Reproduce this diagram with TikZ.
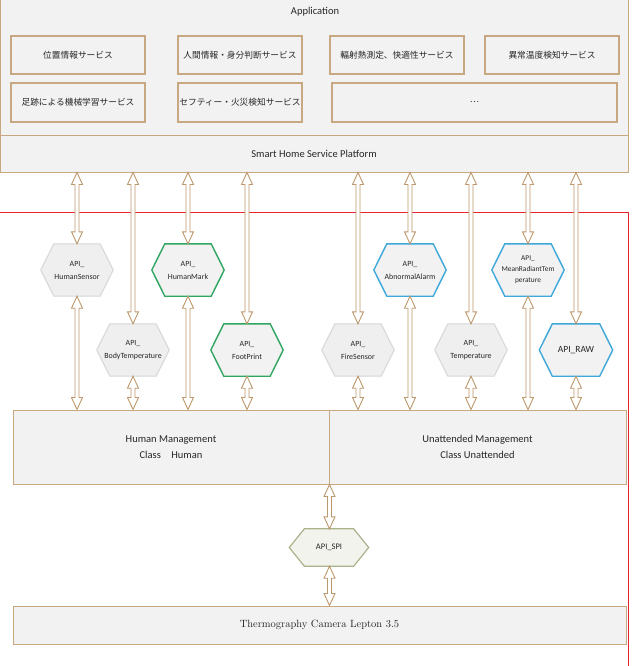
\documentclass[tikz,border=0pt]{standalone}
\usepackage{fontspec}
\newfontfamily\calfont{Carlito}
\newfontfamily\jpfont{Noto Sans CJK JP}
\usetikzlibrary{calc,backgrounds}
\definecolor{tanc}{RGB}{200,168,128}
\definecolor{arrc}{RGB}{188,152,108}
\definecolor{boxfill}{RGB}{242,242,242}
\definecolor{hexfill}{RGB}{239,239,239}
\definecolor{hexgray}{RGB}{214,214,214}
\definecolor{hexgreen}{RGB}{48,166,98}
\definecolor{hexblue}{RGB}{62,168,218}
\definecolor{spiborder}{RGB}{170,178,138}
\definecolor{spifill}{RGB}{243,243,238}
\definecolor{redc}{RGB}{230,36,42}
\definecolor{txt}{RGB}{38,38,38}
\tikzset{
  panel/.style={draw=tanc, fill=boxfill, line width=1pt, inner sep=0pt, text=txt},
  svc/.style={draw=tanc, fill=boxfill, line width=1.4pt, inner sep=0pt, text=txt,
    font=\jpfont\fontsize{8.7}{10}\selectfont},
  hexbox/.style={inner sep=0pt, align=center, text=txt,
    minimum width=72pt, minimum height=52pt, font=\calfont\fontsize{7.9}{13}\selectfont},
  hexg/.style={draw=hexgray, fill=hexfill, line width=1pt},
  hexgr/.style={draw=hexgreen, fill=boxfill, line width=1.4pt},
  hexbl/.style={draw=hexblue, fill=boxfill, line width=1.4pt},
  hexspi/.style={draw=spiborder, fill=spifill, line width=1.2pt},
  arrowsty/.style={draw=arrc, fill=white, line width=0.9pt, line join=miter},
  redline/.style={draw=redc, line width=1pt},
  mgmt/.style={panel, align=center, font=\calfont\fontsize{10.5}{16.5}\selectfont},
}
\newcommand\biarrow[2]{\draw[arrowsty] let \p1=(#1), \p2=(#2) in
 (\x1,\y1) -- ({\x1+5.5pt},{\y1-12pt}) -- ({\x1+2pt},{\y1-12pt}) -- ({\x1+2pt},{\y2+12pt})
 -- ({\x1+5.5pt},{\y2+12pt}) -- (\x1,\y2) -- ({\x1-5.5pt},{\y2+12pt}) -- ({\x1-2pt},{\y2+12pt})
 -- ({\x1-2pt},{\y1-12pt}) -- ({\x1-5.5pt},{\y1-12pt}) -- cycle;}
\newcommand\hexshape[3]{\draw[#1] (#2.west) -- ([xshift=#3]#2.north west) -- ([xshift=-#3]#2.north east)
 -- (#2.east) -- ([xshift=-#3]#2.south east) -- ([xshift=#3]#2.south west) -- cycle;}
\begin{document}
\begin{tikzpicture}[x=1pt,y=-1pt]
\path[use as bounding box] (0,0) rectangle (633,666);
% red frame
\draw[redline] (0,212) -- (628,212) -- (628,667);
% application panel
\node[panel, minimum width=628pt, minimum height=136pt] (app) at (314,67.5) {};
\node[text=txt, font=\calfont\fontsize{10.5}{12}\selectfont] (apptitle) at (315,12) {Application};
\node[svc, minimum width=134pt, minimum height=38pt] (s1) at (78,55) {位置情報サービス};
\node[svc, minimum width=124pt, minimum height=38pt] (s2) at (240,55) {人間情報・身分判断サービス};
\node[svc, minimum width=134pt, minimum height=38pt] (s3) at (397,55) {輻射熱測定、快適性サービス};
\node[svc, minimum width=134pt, minimum height=38pt] (s4) at (552,55) {異常温度検知サービス};
\node[svc, minimum width=134pt, minimum height=39pt] (s5) at (78,102.5) {足跡による機械学習サービス};
\node[svc, minimum width=124pt, minimum height=39pt] (s6) at (240,102.5) {セフティー・火災検知サービス};
\node[svc, minimum width=285pt, minimum height=39pt] (s7) at (474.5,102.5) {…};
% platform
\node[panel, minimum width=628pt, minimum height=37pt, font=\calfont\fontsize{10.5}{12}\selectfont] (shp) at (314,153.5) {Smart Home Service Platform};
% hexagons
\node[hexbox] (hs) at (77,270) {API\_\\HumanSensor};
\node[hexbox] (bt) at (133,350) {API\_\\BodyTemperature};
\node[hexbox] (hm) at (188,270) {API\_\\HumanMark};
\node[hexbox] (fp) at (247,350) {API\_\\FootPrint};
\node[hexbox] (fs) at (358,350) {API\_\\FireSensor};
\node[hexbox] (aa) at (410,270) {API\_\\AbnormalAlarm};
\node[hexbox] (te) at (471,350) {API\_\\Temperature};
\node[hexbox, font=\calfont\fontsize{7.4}{11}\selectfont] (mr) at (528,270) {API\_\\MeanRadiantTem\\perature};
\node[hexbox, minimum width=73pt, font=\calfont\fontsize{9.5}{11}\selectfont] (raw) at (576,350) {API\_RAW};
\node[hexbox, minimum width=79pt, minimum height=37pt, font=\calfont\fontsize{8.5}{11}\selectfont] (spi) at (329,547.5) {API\_SPI};
\begin{scope}[on background layer]
\fill[white] (0,0) rectangle (633,666);
\hexshape{hexg}{hs}{13pt}
\hexshape{hexg}{bt}{13pt}
\hexshape{hexgr}{hm}{13pt}
\hexshape{hexgr}{fp}{13pt}
\hexshape{hexg}{fs}{13pt}
\hexshape{hexbl}{aa}{13pt}
\hexshape{hexg}{te}{13pt}
\hexshape{hexbl}{mr}{13pt}
\hexshape{hexbl}{raw}{13pt}
\hexshape{hexspi}{spi}{15pt}
\end{scope}
% management boxes
\node[mgmt, minimum width=316pt, minimum height=74pt] (hmg) at (171,447) {Human Management\\Class\quad Human};
\node[mgmt, minimum width=297pt, minimum height=74pt] (umg) at (477.5,447) {Unattended Management\\Class Unattended};
\node[panel, minimum width=613pt, minimum height=38pt, font=\fontsize{10.5}{12}\selectfont] (cam) at (319.5,625) {Thermography Camera Lepton 3.5};
% arrows
\biarrow{shp.south -| hs}{hs.north}
\biarrow{hs.south}{hmg.north -| hs}
\biarrow{shp.south -| bt}{bt.north}
\biarrow{bt.south}{hmg.north -| bt}
\biarrow{shp.south -| hm}{hm.north}
\biarrow{hm.south}{hmg.north -| hm}
\biarrow{shp.south -| fp}{fp.north}
\biarrow{fp.south}{hmg.north -| fp}
\biarrow{shp.south -| fs}{fs.north}
\biarrow{fs.south}{umg.north -| fs}
\biarrow{shp.south -| aa}{aa.north}
\biarrow{aa.south}{umg.north -| aa}
\biarrow{shp.south -| te}{te.north}
\biarrow{te.south}{umg.north -| te}
\biarrow{shp.south -| mr}{mr.north}
\biarrow{mr.south}{umg.north -| mr}
\biarrow{shp.south -| raw}{raw.north}
\biarrow{raw.south}{umg.north -| raw}
\biarrow{hmg.south east}{spi.north -| hmg.south east}
\biarrow{spi.south -| hmg.south east}{cam.north -| hmg.south east}
\end{tikzpicture}
\end{document}
